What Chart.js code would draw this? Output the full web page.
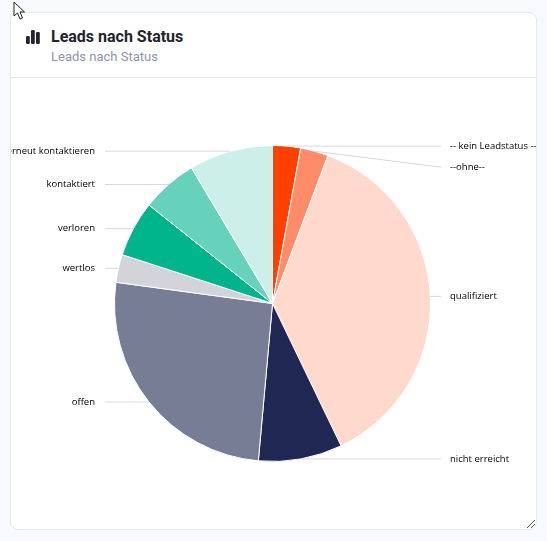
<!DOCTYPE html>
<html>
<head>
<meta charset="utf-8">
<title>Leads nach Status</title>
<script src="https://cdn.jsdelivr.net/npm/chart.js@4"></script>
<style>
  html, body { margin: 0; height: 100%; background: #f8f9fc; overflow: hidden; }
  .card {
    position: absolute; left: 10px; top: 12px; width: 525px; height: 516px;
    background: #fff; border: 1px solid #e6e8ef; border-radius: 8px; overflow: hidden;
  }
  .head { position: absolute; left: 0; top: 0; right: 0; height: 64px; border-bottom: 1px solid #e6e8ef; }
  .head h1 { position: absolute; left: 40px; top: 14px; margin: 0; font: 700 16px Roboto, sans-serif; color: #22242e; }
  .head p { position: absolute; left: 40px; top: 36px; margin: 0; font: 400 13px Roboto, sans-serif; color: #8f93aa; }
  .icon { position: absolute; left: 15px; top: 16px; }
  .chart-box { position: absolute; left: 0; top: 65px; width: 525px; height: 451px; }
  .grip { position: absolute; right: 0; bottom: 0; }
  .cursor { position: absolute; left: 13px; top: 1px; }
</style>
</head>
<body>
<div class="card">
  <div class="head">
    <svg class="icon" width="15" height="15" viewBox="0 0 15 15">
      <rect x="0" y="7" width="3.8" height="8" rx="1.2" fill="#22242e"/>
      <rect x="5" y="1" width="3.8" height="14" rx="1.2" fill="#22242e"/>
      <rect x="10" y="3" width="3.8" height="12" rx="1.2" fill="#22242e"/>
    </svg>
    <h1>Leads nach Status</h1>
    <p>Leads nach Status</p>
  </div>
  <div class="chart-box"><canvas id="leadsChart"></canvas></div>
  <svg class="grip" width="10" height="10" viewBox="0 0 10 10">
    <path d="M1 9 L9 1 M5 9 L9 5" stroke="#555" stroke-width="1"/>
  </svg>
</div>
<svg class="cursor" width="13" height="20" viewBox="0 0 13 20">
  <path d="M1 1 L1 15 L4.5 12 L7 18 L9.5 17 L7 11 L11.5 11 Z" fill="#fff" stroke="#222" stroke-width="1"/>
</svg>
<script>
const categories = ["-- kein Leadstatus --", "--ohne--", "qualifiziert", "nicht erreicht", "offen", "wertlos", "verloren", "kontaktiert", "erneut kontaktieren"];
const leadCounts = [1, 1, 13, 3, 9, 1, 2, 2, 3];
const sliceColors = ["#ff4000", "#ff8c69", "#ffd9cc", "#1e2852", "#787d96", "#d2d4da", "#00b48c", "#66d2bb", "#ccf0e9"];

/* ===== LEADER LINES + LABELS ===== */
const leaderLabels = {
  id: "leaderLabels",
  afterDatasetsDraw(chart) {
    const ctx = chart.ctx;
    const arcs = chart.getDatasetMeta(0).data;
    const labelRightX = chart.width - 95;   // start of right hand labels
    const labelLeftX = 94;                  // line end on the left

    ctx.save();
    ctx.font = "9.5px 'Open Sans', sans-serif";
    ctx.textBaseline = "middle";

    arcs.forEach((arc, i) => {
      const { x, y, startAngle, endAngle, outerRadius } = arc.getProps(["x", "y", "startAngle", "endAngle", "outerRadius"], true);
      const mid = (startAngle + endAngle) / 2;
      const px = x + Math.cos(mid) * outerRadius;
      const py = y + Math.sin(mid) * outerRadius;
      const right = px > x;
      // the two small top slices would collide, so the second one is pushed down
      const ly = i === 1 ? py + 16 : py;
      const ex = right ? labelRightX : labelLeftX;

      ctx.strokeStyle = "#d8d9de";
      ctx.lineWidth = 1;
      ctx.beginPath();
      ctx.moveTo(px, py);
      ctx.lineTo(ex, ly);
      ctx.stroke();

      ctx.fillStyle = "#000000";
      ctx.textAlign = right ? "left" : "right";
      ctx.fillText(categories[i], right ? ex + 9 : ex - 10, ly);
    });
    ctx.restore();
  }
};

new Chart(document.getElementById("leadsChart"), {
  type: "pie",
  data: {
    labels: categories,
    datasets: [{
      data: leadCounts,
      backgroundColor: sliceColors,
      borderColor: "#ffffff",
      borderWidth: 1
    }]
  },
  options: {
    responsive: true,
    maintainAspectRatio: false,
    animation: false,
    layout: { padding: { top: 67, bottom: 67, left: 0, right: 2 } },
    plugins: {
      legend: { display: false },
      tooltip: { enabled: false }
    }
  },
  plugins: [leaderLabels]
});
</script>
</body>
</html>
